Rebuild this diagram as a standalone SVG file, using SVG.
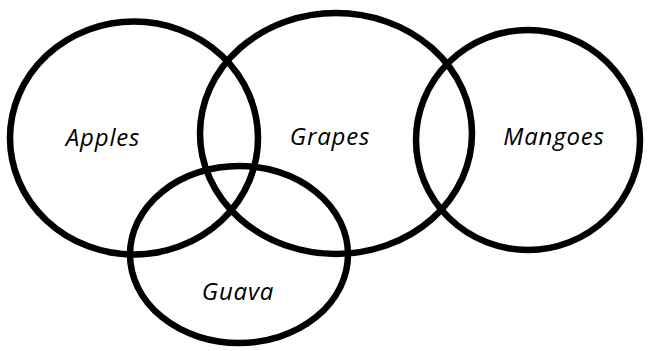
<svg xmlns="http://www.w3.org/2000/svg" width="648" height="351" viewBox="0 0 648 351">
<style>
.c{fill:none;stroke:#000;stroke-width:6.5}
.t{font-family:"Open Sans","Liberation Sans",sans-serif;font-style:italic;font-size:24px;fill:#000;text-anchor:middle;letter-spacing:0.8px}
</style>
<rect width="648" height="351" fill="#fff"/>
<g id="apples"><ellipse class="c" cx="134" cy="138" rx="124" ry="116.5"/><text class="t" x="103" y="146">Apples</text></g>
<g id="grapes"><ellipse class="c" cx="336" cy="133.5" rx="136" ry="120.5"/><text class="t" x="330" y="145">Grapes</text></g>
<g id="mangoes"><ellipse class="c" cx="528" cy="140" rx="112" ry="110"/><text class="t" x="554" y="145">Mangoes</text></g>
<g id="guava"><ellipse class="c" cx="239" cy="254.5" rx="109" ry="88.5"/><text class="t" x="238" y="300">Guava</text></g>
<g id="connectors"></g>
</svg>
